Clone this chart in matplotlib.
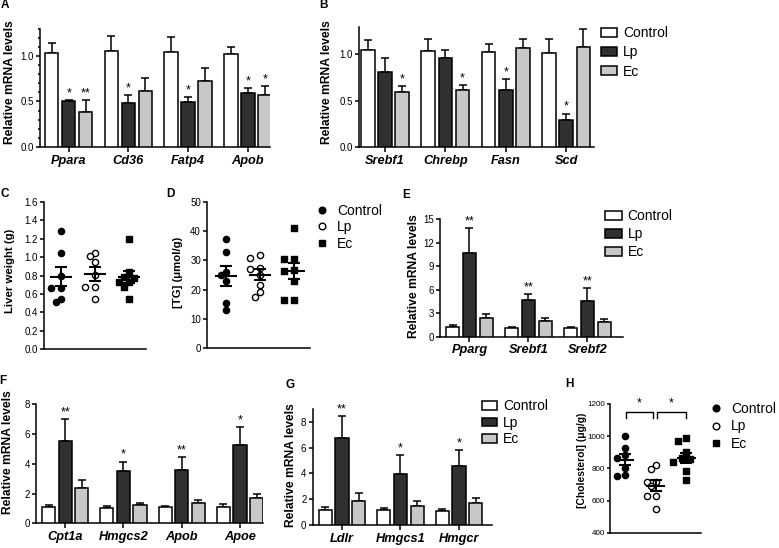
import numpy as np
import matplotlib
matplotlib.use("Agg")
import matplotlib.pyplot as plt
from matplotlib.patches import Patch
from matplotlib.lines import Line2D

plt.rcParams["font.family"] = ["Liberation Sans", "DejaVu Sans"]

groups = ["Control", "Lp", "Ec"]

# A
a_genes = ["Ppara", "Cd36", "Fatp4", "Apob"]
a_ctrl = [1.03, 1.06, 1.04, 1.02]
a_ctrl_err = [0.11, 0.16, 0.17, 0.08]
a_lp = [0.50, 0.48, 0.49, 0.59]
a_lp_err = [0.02, 0.09, 0.06, 0.06]
a_ec = [0.39, 0.62, 0.73, 0.57]
a_ec_err = [0.13, 0.14, 0.14, 0.10]
a_lp_sig = ["*", "*", "*", "*"]
a_ec_sig = ["**", "", "", "*"]

# B
b_genes = ["Srebf1", "Chrebp", "Fasn", "Scd"]
b_ctrl = [1.05, 1.04, 1.03, 1.01]
b_ctrl_err = [0.10, 0.13, 0.08, 0.15]
b_lp = [0.81, 0.96, 0.62, 0.29]
b_lp_err = [0.15, 0.09, 0.11, 0.07]
b_ec = [0.59, 0.61, 1.07, 1.08]
b_ec_err = [0.07, 0.06, 0.10, 0.19]
b_lp_sig = ["", "", "*", "*"]
b_ec_sig = ["*", "*", "", ""]

# C - liver weight (g)
c_control = [1.28, 1.05, 0.80, 0.67, 0.67, 0.55, 0.51]
c_lp = [1.05, 1.01, 0.95, 0.81, 0.68, 0.68, 0.55]
c_ec = [1.20, 0.84, 0.79, 0.77, 0.73, 0.73, 0.68, 0.55]

# D - [TG] (umol/g)
d_control = [37.5, 32.9, 26.2, 24.9, 22.8, 15.3, 13.0]
d_lp = [32.0, 30.8, 27.4, 27.1, 25.1, 21.4, 19.1, 17.6]
d_ec = [41.1, 30.6, 30.6, 26.8, 26.4, 23.0, 16.4, 16.4]

# E
e_genes = ["Pparg", "Srebf1", "Srebf2"]
e_ctrl = [1.2, 1.1, 1.15]
e_ctrl_err = [0.25, 0.13, 0.13]
e_lp = [10.65, 4.75, 4.6]
e_lp_err = [3.2, 0.75, 1.6]
e_ec = [2.4, 2.0, 1.83]
e_ec_err = [0.5, 0.45, 0.37]
e_lp_sig = ["**", "**", "**"]
e_ec_sig = ["", "", ""]

# F
f_genes = ["Cpt1a", "Hmgcs2", "Apob", "Apoe"]
f_ctrl = [1.1, 1.05, 1.08, 1.1]
f_ctrl_err = [0.16, 0.09, 0.11, 0.22]
f_lp = [5.55, 3.52, 3.56, 5.27]
f_lp_err = [1.43, 0.63, 0.9, 1.19]
f_ec = [2.4, 1.21, 1.35, 1.73]
f_ec_err = [0.51, 0.16, 0.24, 0.22]
f_lp_sig = ["**", "*", "**", "*"]
f_ec_sig = ["", "", "", ""]

# G
g_genes = ["Ldlr", "Hmgcs1", "Hmgcr"]
g_ctrl = [1.19, 1.14, 1.11]
g_ctrl_err = [0.23, 0.2, 0.13]
g_lp = [6.71, 3.95, 4.54]
g_lp_err = [1.75, 1.47, 1.24]
g_ec = [1.88, 1.47, 1.73]
g_ec_err = [0.62, 0.41, 0.39]
g_lp_sig = ["**", "*", "*"]
g_ec_sig = ["", "", ""]

# H - [Cholesterol] (ug/g)
h_control = [1000, 925, 885, 862, 800, 760, 752]
h_lp = [821, 794, 717, 717, 688, 630, 628, 547]
h_ec = [987, 970, 899, 862, 858, 841, 783, 727]
h_comparisons = [(0, 1, "*"), (1, 2, "*")]

W, H = 779, 548
fig = plt.figure(figsize=(W / 100, H / 100), dpi=100)


def box(l, t, r, b):
    return [l / W, 1 - b / H, (r - l) / W, (b - t) / H]


bar_colors = ["white", "#303030", "#c8c8c8"]
LW = 1.1


def style_axes(ax, ticksize=7.0):
    for s in ["top", "right"]:
        ax.spines[s].set_visible(False)
    for s in ["left", "bottom"]:
        ax.spines[s].set_linewidth(LW)
    ax.tick_params(axis="y", labelsize=ticksize, length=3, width=LW, pad=1.5)
    ax.tick_params(axis="x", length=3.5, width=LW, pad=2)


def bar_panel(ax, genes, series, sigs, ytop, yticks, left, right):
    x = np.arange(len(genes))
    for k, (vals, errs) in enumerate(series):
        xs = x + (k - 1) * 0.285
        ax.bar(xs, vals, 0.225, color=bar_colors[k], edgecolor="black",
               linewidth=LW, zorder=3)
        ax.errorbar(xs, vals, yerr=[np.zeros(len(vals)), errs], fmt="none",
                    ecolor="black", elinewidth=LW, capsize=2.6, capthick=LW,
                    zorder=2)
        if sigs[k] is None:
            continue
        for xi, v, e, s in zip(xs, vals, errs, sigs[k]):
            if s:
                ax.annotate(s, (xi, v + e), xytext=(0, 0.5),
                            textcoords="offset points", ha="center",
                            va="bottom", fontsize=9)
    ax.set_xlim(-left, len(genes) - 1 + right)
    ax.set_ylim(0, ytop)
    ax.set_yticks(yticks)
    ax.set_xticks(x, genes, fontstyle="italic", fontweight="bold", fontsize=9.2)
    style_axes(ax)


def swarm_x(ax, xc, vals, step=4.8, gap=6.0):
    tr = ax.transData
    placed = []
    xs = []
    for v in vals:
        cx, cy = tr.transform((xc, v))
        for k in [0, -1, 1, -2, 2, -3, 3]:
            px = cx + k * step
            if all((px - qx) ** 2 + (cy - qy) ** 2 >= gap ** 2 for qx, qy in placed):
                break
        placed.append((px, cy))
        xs.append(tr.inverted().transform((px, cy))[0])
    return xs


markers = [dict(marker="o", facecolor="black", edgecolor="black"),
           dict(marker="o", facecolor="white", edgecolor="black"),
           dict(marker="s", facecolor="black", edgecolor="black")]


def scatter_panel(ax, cols, ylim, yticks, left, right, ticksize=7.0, step=4.8):
    ax.set_xlim(-left, len(cols) - 1 + right)
    ax.set_ylim(*ylim)
    ax.set_yticks(yticks)
    ax.set_xticks([])
    for i, vals in enumerate(cols):
        xs = swarm_x(ax, i, vals, step=step)
        ax.scatter(xs, vals, s=20, linewidths=1.0, zorder=3, clip_on=False,
                   **markers[i])
        m = np.mean(vals)
        sem = np.std(vals, ddof=1) / np.sqrt(len(vals))
        ax.hlines(m, i - 0.31, i + 0.31, color="black", linewidth=1.5, zorder=4)
        ax.errorbar(i, m, yerr=sem, fmt="none", ecolor="black", elinewidth=1.5,
                    capsize=4, capthick=1.5, zorder=4)
    style_axes(ax, ticksize)
    ax.tick_params(axis="x", length=0)


# bar panels
axA = fig.add_axes(box(40, 28.7, 270, 147))
bar_panel(axA, a_genes, [(a_ctrl, a_ctrl_err), (a_lp, a_lp_err), (a_ec, a_ec_err)],
          [None, a_lp_sig, a_ec_sig], 1.3, [0, 0.5, 1.0], 0.48, 0.37)
axA.set_yticks(np.arange(0, 1.31, 0.1), minor=True)
axA.tick_params(axis="y", which="minor", length=1.8, width=LW)
axA.set_yticklabels(["0.0", "0.5", "1.0"])

axB = fig.add_axes(box(359, 26.5, 594, 147))
bar_panel(axB, b_genes, [(b_ctrl, b_ctrl_err), (b_lp, b_lp_err), (b_ec, b_ec_err)],
          [None, b_lp_sig, b_ec_sig], 1.3, [0, 0.5, 1.0], 0.43, 0.46)
axB.set_yticklabels(["0.0", "0.5", "1.0"])

axE = fig.add_axes(box(440, 219.3, 622.7, 336.7))
bar_panel(axE, e_genes, [(e_ctrl, e_ctrl_err), (e_lp, e_lp_err), (e_ec, e_ec_err)],
          [None, e_lp_sig, e_ec_sig], 15, [0, 3, 6, 9, 12, 15], 0.5, 0.6)

axF = fig.add_axes(box(36, 404.3, 263.3, 523.3))
bar_panel(axF, f_genes, [(f_ctrl, f_ctrl_err), (f_lp, f_lp_err), (f_ec, f_ec_err)],
          [None, f_lp_sig, f_ec_sig], 8, [0, 2, 4, 6, 8], 0.5, 0.4)

axG = fig.add_axes(box(312.7, 408.9, 491.7, 525))
bar_panel(axG, g_genes, [(g_ctrl, g_ctrl_err), (g_lp, g_lp_err), (g_ec, g_ec_err)],
          [None, g_lp_sig, g_ec_sig], 9, [0, 2, 4, 6, 8], 0.5, 0.56)

# scatter panels
axC = fig.add_axes(box(44.3, 202, 145.7, 349.3))
scatter_panel(axC, [c_control, c_lp, c_ec], (0, 1.6), np.arange(0, 1.61, 0.2), 0.49, 0.49)
axC.set_yticklabels([f"{v:.1f}" for v in np.arange(0, 1.61, 0.2)])

axD = fig.add_axes(box(207.3, 202.3, 310, 347.7))
scatter_panel(axD, [d_control, d_lp, d_ec], (0, 50), [0, 10, 20, 30, 40, 50], 0.55, 0.47)

axH = fig.add_axes(box(610, 404, 700.7, 532.7))
scatter_panel(axH, [h_control, h_lp, h_ec], (400, 1200), [400, 600, 800, 1000, 1200],
              0.49, 0.48, ticksize=5.8, step=4.2)
axH.tick_params(axis="y", length=2.5, pad=1)
for i0, i1, s in h_comparisons:
    x0 = i0 + (0.05 if i0 > 0 else 0.02)
    x1 = i1 - (0.08 if i1 < 2 else 0.0)
    axH.plot([x0, x0, x1, x1], [1110, 1150, 1150, 1110], color="black", linewidth=1.0)
    axH.text((x0 + x1) / 2, 1165, s, ha="center", va="bottom", fontsize=9)

# y labels
ylab = dict(rotation=90, ha="center", va="center", fontweight="bold")
fig.text(10 / W, 1 - 82 / H, "Relative mRNA levels", fontsize=8.7, **ylab)
fig.text(327 / W, 1 - 82 / H, "Relative mRNA levels", fontsize=8.7, **ylab)
fig.text(10 / W, 1 - 271 / H, "Liver weight (g)", fontsize=8.2, **ylab)
fig.text(178 / W, 1 - 272 / H, "[TG] (μmol/g)", fontsize=8.2, **ylab)
fig.text(414 / W, 1 - 276 / H, "Relative mRNA levels", fontsize=8.7, **ylab)
fig.text(8 / W, 1 - 452 / H, "Relative mRNA levels", fontsize=8.7, **ylab)
fig.text(291 / W, 1 - 465 / H, "Relative mRNA levels", fontsize=8.7, **ylab)
fig.text(582 / W, 1 - 460 / H, "[Cholesterol] (μg/g)", fontsize=7.4, **ylab)

# panel letters
for letter, px, py in [("A", 5, 5), ("B", 323, 5), ("C", 5, 194), ("D", 170, 194),
                       ("E", 406, 195), ("F", 3, 381), ("G", 290, 385), ("H", 569, 384)]:
    fig.text(px / W, 1 - py / H, letter, fontsize=8.5, fontweight="bold",
             ha="center", va="center")

# legends
bar_handles = [Patch(facecolor=c, edgecolor="black", linewidth=LW) for c in bar_colors]
dot_handles = [Line2D([], [], linestyle="none", marker=m["marker"], markersize=4.8,
                      markerfacecolor=m["facecolor"], markeredgecolor="black",
                      markeredgewidth=1.0) for m in markers]


def add_legend(handles, x, y, spacing, handlelength, handletextpad, handleheight=0.7):
    fig.legend(handles, groups, loc="upper left", bbox_to_anchor=(x / W, 1 - y / H),
               frameon=False, borderpad=0, borderaxespad=0, fontsize=10,
               handlelength=handlelength, handleheight=handleheight,
               handletextpad=handletextpad, labelspacing=spacing)


add_legend(bar_handles, 601, 26, 0.38, 1.15, 0.42, 0.6)
add_legend(bar_handles, 605, 209.5, 0.28, 1.25, 0.38, 0.6)
add_legend(bar_handles, 482, 399.5, 0.17, 1.1, 0.42, 0.6)
add_legend(dot_handles, 317, 204, 0.17, 0.75, 0.7)
add_legend(dot_handles, 711, 402, 0.25, 0.75, 0.7)

fig.savefig("out.png", dpi=100)
